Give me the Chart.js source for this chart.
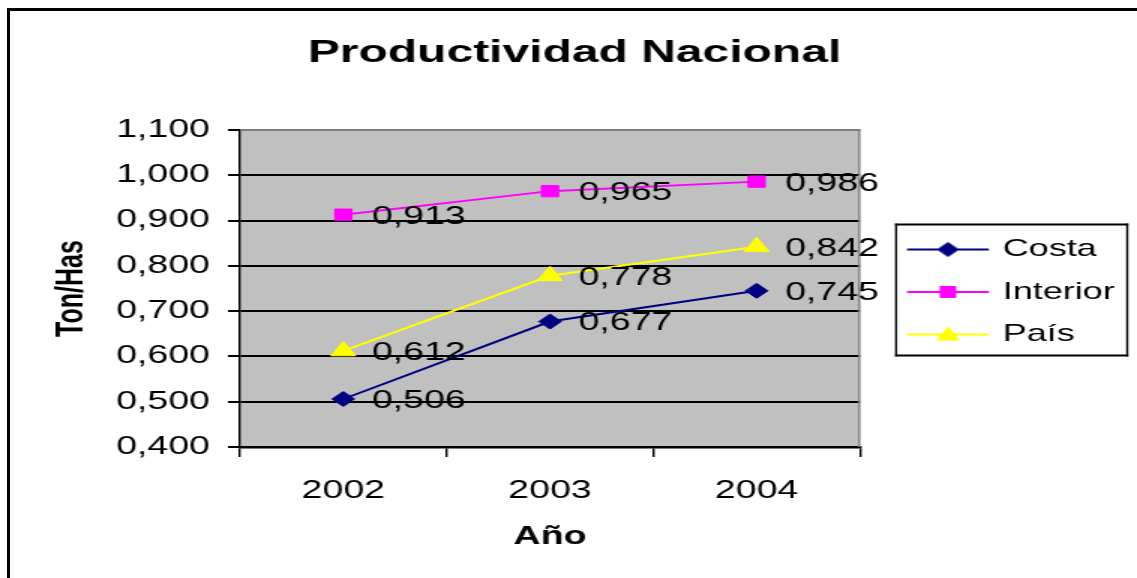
<!DOCTYPE html>
<html>
<head>
<meta charset="utf-8">
<script src="https://cdn.jsdelivr.net/npm/chart.js@4/dist/chart.umd.min.js"></script>
<style>
  html, body { margin: 0; padding: 0; background: #fff; overflow: hidden; }
  #wrap { position: relative; width: 1137px; height: 578px; }
  #c { position: absolute; left: 0; top: 0; }
  #frame { position: absolute; left: 7px; top: 8px; width: 1200px; height: 700px;
           border-left: 3px solid #000; border-top: 3px solid #000; pointer-events: none; }
</style>
</head>
<body>
<div id="wrap">
  <canvas id="c" width="758" height="578" style="width:1137px;height:578px"></canvas>
  <div id="frame"></div>
</div>
<script>
// ---- data ----
const years = ['2002', '2003', '2004'];
const costa = [0.506, 0.677, 0.745];
const interior = [0.913, 0.965, 0.986];
const pais = [0.612, 0.778, 0.842];
const seriesNames = ['Costa', 'Interior', 'País'];
const yTickValues = [0.4, 0.5, 0.6, 0.7, 0.8, 0.9, 1.0, 1.1];
const chartTitle = 'Productividad Nacional';
const xTitle = 'Año';
const yTitle = 'Ton/Has';

const FONT = "'Liberation Sans', Arial, sans-serif";
const fmt = v => Number(v).toFixed(3).replace('.', ',');

const colors = ['#000080', '#FF00FF', '#FFFF00'];
const markers = ['rectRot', 'rect', 'triangle'];
const radii = [7.5, 8, 9.5];

// legend icon: line with the series marker in its middle
const ICON_W = 72, ICON_H = 20, LINE_X0 = 16.5, LINE_LEN = 54.6;
function makeIcon(kind, color) {
  const c = document.createElement('canvas');
  c.width = ICON_W; c.height = ICON_H;
  const g = c.getContext('2d');
  const cy = ICON_H / 2, cx = LINE_X0 + LINE_LEN / 2;
  g.strokeStyle = color; g.lineWidth = 2;
  g.beginPath(); g.moveTo(LINE_X0, cy); g.lineTo(LINE_X0 + LINE_LEN, cy); g.stroke();
  g.fillStyle = color;
  g.beginPath();
  if (kind === 'rectRot') {
    g.moveTo(cx, cy - 7.5); g.lineTo(cx + 7.5, cy); g.lineTo(cx, cy + 7.5); g.lineTo(cx - 7.5, cy);
  } else if (kind === 'rect') {
    g.rect(cx - 5.5, cy - 6, 11, 12);
  } else {
    g.moveTo(cx, cy - 8); g.lineTo(cx + 8, cy + 6); g.lineTo(cx - 8, cy + 6);
  }
  g.closePath(); g.fill();
  return c;
}
const icons = markers.map((m, i) => makeIcon(m, colors[i]));

const plotFrame = {
  id: 'plotFrame',
  afterLayout(chart) {
    // nudge the legend block slightly down, as in the original
    if (chart.legend) { chart.legend.top += 3; chart.legend.bottom += 3; }
  },
  beforeDraw(chart) {
    const { ctx, chartArea: a } = chart;
    ctx.save();
    ctx.fillStyle = '#C0C0C0';
    ctx.fillRect(a.left, a.top, a.right - a.left, a.bottom - a.top);
    ctx.restore();
  },
  beforeDatasetsDraw(chart) {
    const { ctx, chartArea: a } = chart;
    ctx.save();
    ctx.fillStyle = '#808080';
    ctx.fillRect(a.left, a.top - 1, a.right - a.left, 2);
    ctx.fillRect(a.right - 1.2, a.top - 1, 1.4, a.bottom - a.top + 1);
    ctx.restore();
  }
};

const valueLabels = {
  id: 'valueLabels',
  afterDatasetsDraw(chart) {
    const ctx = chart.ctx;
    ctx.save();
    ctx.font = '25px ' + FONT;
    ctx.fillStyle = '#000';
    ctx.textAlign = 'left';
    ctx.textBaseline = 'middle';
    chart.data.datasets.forEach((ds, i) => {
      const meta = chart.getDatasetMeta(i);
      meta.data.forEach((pt, j) => {
        ctx.fillText(fmt(ds.data[j]), pt.x + 19, pt.y + 2);
      });
    });
    ctx.restore();
  }
};

const legendBox = {
  id: 'legendBox',
  afterDraw(chart) {
    const hb = chart.legend && chart.legend.legendHitBoxes;
    if (!hb || !hb.length) return;
    let l = Infinity, r = -Infinity, t = Infinity, b = -Infinity;
    hb.forEach(h => {
      l = Math.min(l, h.left); r = Math.max(r, h.left + h.width);
      t = Math.min(t, h.top); b = Math.max(b, h.top + h.height);
    });
    const ctx = chart.ctx;
    const L = l + 4.9, R = r + 9, T = t - 14, B = b + 10;
    ctx.save();
    ctx.fillStyle = '#000';
    ctx.fillRect(L, T, R - L, 2);
    ctx.fillRect(L, B - 2, R - L, 2);
    ctx.fillRect(L, T, 1.4, B - T);
    ctx.fillRect(R - 1.4, T, 1.4, B - T);
    ctx.restore();
  }
};

const seriesData = [costa, interior, pais];
const datasets = seriesData.map((d, i) => ({
  label: seriesNames[i],
  data: d,
  borderColor: colors[i],
  backgroundColor: colors[i],
  borderWidth: 2,
  pointStyle: markers[i],
  pointRadius: radii[i],
  pointHoverRadius: radii[i],
  pointBackgroundColor: colors[i],
  pointBorderColor: colors[i],
  pointBorderWidth: 1,
  tension: 0
}));

new Chart(document.getElementById('c'), {
  type: 'line',
  data: { labels: years, datasets },
  options: {
    responsive: false,
    animation: false,
    devicePixelRatio: 1,
    layout: { padding: { left: 12.8, right: 4.8, top: 0, bottom: 0 } },
    plugins: {
      tooltip: { enabled: false },
      title: {
        display: true, text: chartTitle, color: '#000',
        font: { family: FONT, size: 32, weight: 'bold' },
        padding: { top: 34, bottom: 57.6 }
      },
      legend: {
        position: 'right',
        labels: {
          usePointStyle: true,
          pointStyleWidth: 64.7,
          padding: 18.5,
          color: '#000',
          font: { family: FONT, size: 24 },
          generateLabels(chart) {
            const items = Chart.defaults.plugins.legend.labels.generateLabels(chart);
            items.forEach((it, i) => { it.pointStyle = icons[i]; });
            return items;
          }
        }
      }
    },
    scales: {
      x: {
        type: 'category',
        offset: true,
        grid: { display: true, drawOnChartArea: false, drawTicks: true, tickLength: 10, offset: true, color: '#000', lineWidth: 1.4 },
        border: { display: true, color: '#000', width: 2.5 },
        ticks: { color: '#000', font: { family: FONT, size: 25 }, padding: 19, maxRotation: 0 },
        title: { display: true, text: xTitle, color: '#000', font: { family: FONT, size: 25, weight: 'bold' }, padding: { top: 0, bottom: 26 } },
        afterFit(s) { s.height = 131; }
      },
      y: {
        type: 'linear',
        position: 'left',
        min: yTickValues[0],
        max: yTickValues[yTickValues.length - 1],
        afterBuildTicks(s) { s.ticks = yTickValues.map(v => ({ value: v })); },
        grid: { color: '#000', lineWidth: 2, tickLength: 8, drawTicks: true },
        border: { display: true, color: '#000', width: 1.4 },
        ticks: { color: '#000', font: { family: FONT, size: 25 }, padding: 12, callback: v => fmt(v) },
        title: { display: true, text: yTitle, color: '#000', font: { family: FONT, size: 25, weight: 'bold' }, padding: { top: 20.2, bottom: 0 } },
        afterFit(s) { s.width = 147.2; }
      }
    }
  },
  plugins: [plotFrame, valueLabels, legendBox]
});
</script>
</body>
</html>
